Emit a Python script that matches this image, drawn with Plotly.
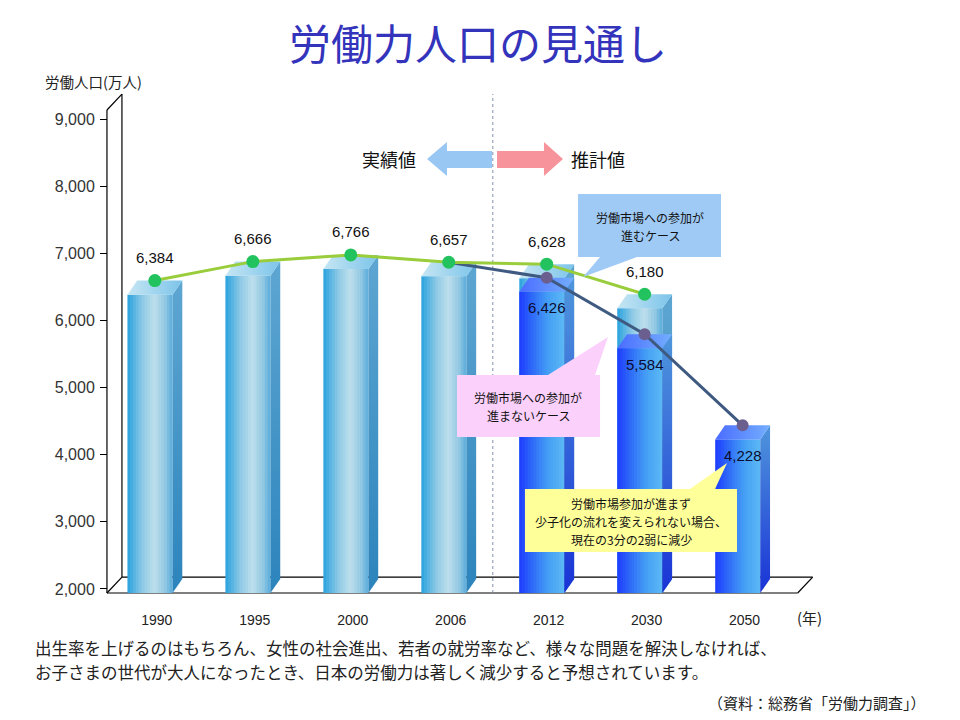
import plotly.graph_objects as go

# ---- data (万人) ----
YEARS = ["1990", "1995", "2000", "2006", "2012", "2030", "2050"]
CASE_UP = [6384, 6666, 6766, 6657, 6628, 6180, None]     # 労働市場への参加が進むケース
CASE_DOWN = [None, None, None, 6657, 6426, 5584, 4228]   # 労働市場への参加が進まないケース
Y_TICKS = [2000, 3000, 4000, 5000, 6000, 7000, 8000, 9000]
FIRST_ESTIMATE = 4  # 2012以降は推計値

# ---- pseudo 3D geometry (data units) ----
BAR_W, BAR_DX, BAR_DY = 0.46, 0.10, 210
WALL_DX, WALL_DY = 0.153, 238
X_RANGE = [-0.51, 6.84]
Y_RANGE = [1836, 9462]
X_WALL, X_END = -0.439, 6.612
Y_FLOOR, Y_WALL_TOP = 1940, 9134

W, H = 960, 720
OFF = 8  # page body margin
JP = "Noto Sans CJK JP"
NUM = "Liberation Sans, Arial, sans-serif"

# colours
LIGHT_FRONT = [(0, "#2aa2de"), (0.35, "#92cbe6"), (0.6, "#bddfec"), (0.85, "#8fc6e2"), (1, "#58acda")]
LIGHT_SIDE = [[0, "#2c84bc"], [1, "#5ea6d2"]]
LIGHT_TOP = [[0, "#c6e6f3"], [1, "#7cc4ea"]]
DARK_FRONT = [(0, "#1e3cff"), (0.3, "#2f6cf8"), (0.65, "#45a0f5"), (1, "#5cb8f5")]
DARK_SIDE = [[0, "#1a33d6"], [1, "#4f96dc"]]
DARK_TOP = [[0, "#4a6cff"], [1, "#74aeff"]]


def mix(stops, t):
    for (t0, c0), (t1, c1) in zip(stops, stops[1:]):
        if t <= t1:
            f = (t - t0) / (t1 - t0)
            a = [int(c0[i:i + 2], 16) for i in (1, 3, 5)]
            b = [int(c1[i:i + 2], 16) for i in (1, 3, 5)]
            return "rgb({},{},{})".format(*[round(p + (q - p) * f) for p, q in zip(a, b)])
    return stops[-1][1]


def px(x):
    return (x - OFF) / W


def py(y):
    return 1 - (y - OFF) / H


def path(points):
    return "M " + " L ".join(f"{px(x):.4f},{py(y):.4f}" for x, y in points) + " Z"


def add_front(fig, xs, vals, stops, n=16):
    step = BAR_W / n
    for k in range(n):
        fig.add_trace(go.Bar(
            x=xs, y=[v - Y_FLOOR for v in vals], base=Y_FLOOR,
            width=min(step * 1.6, BAR_W - k * step), offset=-BAR_W / 2 + k * step,
            marker=dict(color=mix(stops, (k + 0.5) / n), line_width=0),
            hoverinfo="skip", showlegend=False))


def add_faces(fig, x, v, side, top):
    xl, xr = x - BAR_W / 2, x + BAR_W / 2
    fig.add_trace(go.Scatter(
        x=[xr, xr + BAR_DX, xr + BAR_DX, xr, xr],
        y=[Y_FLOOR, Y_FLOOR + BAR_DY, v + BAR_DY, v, Y_FLOOR],
        mode="lines", line=dict(width=0), fill="toself",
        fillgradient=dict(type="vertical", colorscale=side),
        hoverinfo="skip", showlegend=False))
    fig.add_trace(go.Scatter(
        x=[xl, xr, xr + BAR_DX, xl + BAR_DX, xl],
        y=[v, v, v + BAR_DY, v + BAR_DY, v],
        mode="lines", line=dict(width=0), fill="toself",
        fillgradient=dict(type="horizontal", colorscale=top),
        hoverinfo="skip", showlegend=False))


fig = go.Figure()

up_idx = [i for i, v in enumerate(CASE_UP) if v is not None]
down_idx = [i for i, v in enumerate(CASE_DOWN) if v is not None and i >= FIRST_ESTIMATE]

# bar front faces
add_front(fig, up_idx, [CASE_UP[i] for i in up_idx], LIGHT_FRONT)
add_front(fig, down_idx, [CASE_DOWN[i] for i in down_idx], DARK_FRONT)

# bar side / top faces
for i in up_idx:
    add_faces(fig, i, CASE_UP[i], LIGHT_SIDE, LIGHT_TOP)
for i in down_idx:
    add_faces(fig, i, CASE_DOWN[i], DARK_SIDE, DARK_TOP)

# lines
dl = [i for i, v in enumerate(CASE_DOWN) if v is not None]
fig.add_trace(go.Scatter(
    x=[i + BAR_DX / 2 for i in dl], y=[CASE_DOWN[i] + BAR_DY for i in dl],
    mode="lines", line=dict(color="#3f5a80", width=3), hoverinfo="skip", showlegend=False))
fig.add_trace(go.Scatter(
    x=[i + BAR_DX / 2 for i in down_idx], y=[CASE_DOWN[i] + BAR_DY for i in down_idx],
    mode="markers", marker=dict(color="#6b5f8f", size=12), hoverinfo="skip", showlegend=False))
fig.add_trace(go.Scatter(
    x=[i + BAR_DX / 2 for i in up_idx], y=[CASE_UP[i] + BAR_DY for i in up_idx],
    mode="lines+markers", line=dict(color="#9acd3c", width=3),
    marker=dict(color="#22c35e", size=13), hoverinfo="skip", showlegend=False))

ann = []
for i in up_idx:
    ann.append(dict(x=i + BAR_DX / 2, y=CASE_UP[i] + BAR_DY, yshift=23, text=f"{CASE_UP[i]:,}",
                    showarrow=False, font=dict(family=NUM, size=15, color="#111")))
for i in down_idx:
    ann.append(dict(x=i + BAR_DX / 2, y=CASE_DOWN[i] + BAR_DY, yshift=-30, text=f"{CASE_DOWN[i]:,}",
                    showarrow=False, font=dict(family=NUM, size=15, color="#0c0c30")))

# walls / floor outline
line = dict(color="#000", width=1.2)
wall = [
    (X_WALL, Y_FLOOR, X_WALL, Y_WALL_TOP),
    (X_WALL + WALL_DX, Y_FLOOR + WALL_DY, X_WALL + WALL_DX, Y_WALL_TOP + WALL_DY),
    (X_WALL, Y_WALL_TOP, X_WALL + WALL_DX, Y_WALL_TOP + WALL_DY),
    (X_WALL, Y_FLOOR, X_WALL + WALL_DX, Y_FLOOR + WALL_DY),
    (X_WALL, Y_FLOOR, X_END, Y_FLOOR),
    (X_WALL + WALL_DX, Y_FLOOR + WALL_DY, X_END + WALL_DX, Y_FLOOR + WALL_DY),
    (X_END, Y_FLOOR, X_END + WALL_DX, Y_FLOOR + WALL_DY),
]
shapes = [dict(type="line", xref="x", yref="y", x0=a, y0=b, x1=c, y1=d, line=line, layer="below")
          for a, b, c, d in wall]
# 実績値 / 推計値 boundary
shapes.append(dict(type="line", xref="x", yref="y", x0=FIRST_ESTIMATE - 0.5, x1=FIRST_ESTIMATE - 0.5,
                   y0=Y_FLOOR, y1=Y_WALL_TOP + WALL_DY, line=dict(color="#7f8fb0", width=1, dash="dot"),
                   layer="below"))

# arrows
shapes.append(dict(type="path", xref="paper", yref="paper", line_width=0, fillcolor="#98c7f4",
                   path=path([(427, 159), (447, 142), (447, 151), (492, 151), (492, 168), (447, 168), (447, 176)])))
shapes.append(dict(type="path", xref="paper", yref="paper", line_width=0, fillcolor="#f7949b",
                   path=path([(563, 159), (544, 142), (544, 151), (497, 151), (497, 168), (544, 168), (544, 176)])))

# callouts
shapes.append(dict(type="path", xref="paper", yref="paper", line_width=0, fillcolor="#9fcaf5",
                   path=path([(578, 194), (721, 194), (721, 257), (637, 257), (583, 277), (600, 257), (578, 257)])))
shapes.append(dict(type="path", xref="paper", yref="paper", line_width=0, fillcolor="#fbd0fb",
                   path=path([(457, 375), (548, 375), (608, 337), (595, 375), (600, 375), (600, 437), (457, 437)])))
shapes.append(dict(type="path", xref="paper", yref="paper", line_width=0, fillcolor="#ffff99",
                   path=path([(525, 489), (690, 489), (727, 463), (715, 489), (737, 489), (737, 552), (525, 552)])))


def text(x, y, s, size, color="#111", anchor="center", family=JP):
    ann.append(dict(x=px(x), y=py(y), xref="paper", yref="paper", text=s, showarrow=False,
                    xanchor=anchor, yanchor="middle", font=dict(family=family, size=size, color=color)))


text(389, 159, "実績値", 18)
text(598, 159, "推計値", 18)
text(650, 217, "労働市場への参加が", 12)
text(650, 235, "進むケース", 12)
text(528, 397, "労働市場への参加が", 12)
text(528, 415, "進まないケース", 12)
text(631, 503, "労働市場参加が進まず", 12)
text(631, 521, "少子化の流れを変えられない場合、", 12)
text(631, 539, "現在の3分の2弱に減少", 12)
text(43, 82, "労働人口(万人)", 14.5, "#222", "left")
text(809, 617, "(年)", 15, "#222")
text(33, 648, "出生率を上げるのはもちろん、女性の社会進出、若者の就労率など、様々な問題を解決しなければ、", 16.5, "#222", "left")
text(33, 672, "お子さまの世代が大人になったとき、日本の労働力は著しく減少すると予想されています。", 16.5, "#222", "left")
text(928, 702, "（資料：総務省「労働力調査」）", 15, "#222", "right")

fig.update_layout(
    width=W, height=H, autosize=False,
    margin=dict(l=0, r=0, t=0, b=0),
    paper_bgcolor="white", plot_bgcolor="white",
    barmode="overlay", showlegend=False,
    title=dict(text="労働力人口の見通し", x=px(478), xanchor="center", y=py(45), yanchor="middle",
               font=dict(family=JP, size=42, color="#3333bb")),
    shapes=shapes, annotations=ann,
    xaxis=dict(domain=[px(100), px(820)], range=X_RANGE, anchor="free", position=py(593),
               tickvals=[i + BAR_DX * 0.7 for i in range(len(YEARS))], ticktext=YEARS,
               ticks="", ticklabelstandoff=17, showgrid=False, zeroline=False, showline=False,
               tickfont=dict(family=NUM, size=14, color="#222")),
    yaxis=dict(domain=[py(600), py(88)], range=Y_RANGE, anchor="free", position=px(107),
               tickvals=Y_TICKS, tickformat=",", ticks="outside", ticklen=7, tickcolor="#000",
               showgrid=False, zeroline=False, showline=False, ticklabelstandoff=2,
               tickfont=dict(family=NUM, size=16, color="#333")),
)

fig.write_html("out.html")
